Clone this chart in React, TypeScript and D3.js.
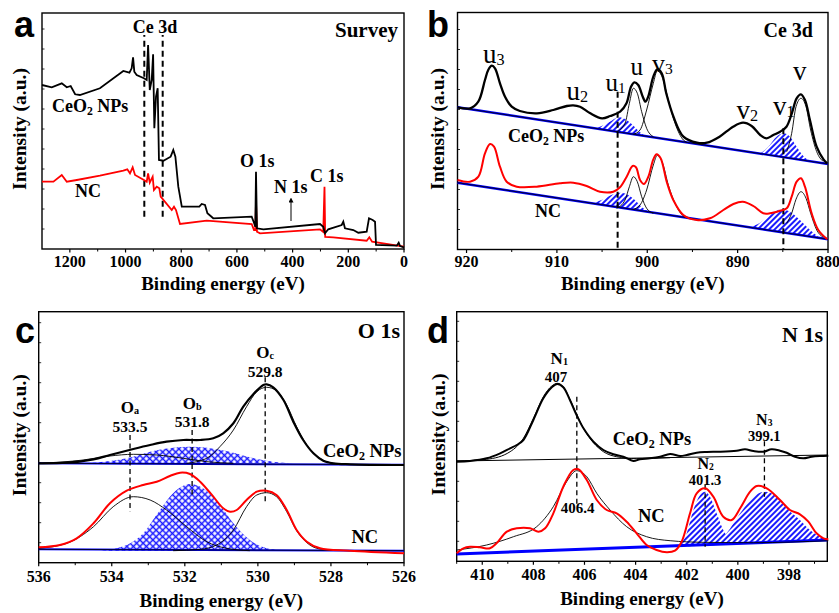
import React from "react";
import * as d3 from "d3";

type P = [number, number];

const SERIF = "'Liberation Serif', 'Times New Roman', serif";
const SANS = "'Liberation Sans', Arial, sans-serif";
const BLUE = "#0000ff";
const HBLUE = "#1a1aff";
const RED = "#ff0000";

// ---------------- a: Survey ----------------
const surveyMajor = [1200, 1000, 800, 600, 400, 200, 0];
const surveyMinor = [1100, 900, 700, 500, 300, 100];
const surveyCeO2: P[] = [[1300,164],[1265,161.7],[1229,165.7],[1211,161.7],[1197,163],[1181,154.7],[1164,154],[1092,160.7],[1008,178],[986,176.3],[978,180.7],[973,191.7],[968.5,177.3],[960,174],[934,170.7],[924,169],[919,204],[913,159],[906,169],[901,194.7],[896.6,120.7],[890.6,152.3],[884.6,160.7],[880,89],[864,88.3],[838,92.3],[828.5,99],[821,92.3],[810.5,62.3],[798,42.3],[735,42.3],[726.5,45],[714.6,44],[706,35.7],[685,30.7],[547,32.3],[538.7,26.3],[534,22.3],[531.5,77.3],[528,20.7],[505,19.7],[301.7,25],[290,22.3],[283.7,15.7],[272,19.7],[223.7,24],[218,27.3],[212,20.7],[182,19],[164,16.3],[134,17.3],[125.7,30.7],[112.5,29],[104,27.3],[100.5,4],[26,3.3],[19,6.3],[14,3],[0,1.7]];
const surveyNC: P[] = [[1300,67.3],[1259,67.3],[1229,74],[1211,67.3],[1175,69],[1092,73.3],[1008,78.3],[993.7,79.7],[984,75.7],[974.4,81.7],[966,74],[934,69],[924,67.3],[919,75.7],[913,66.3],[902.6,72.3],[898,59],[888,62.3],[878.7,60.7],[873.8,52.3],[834,39],[826,42.3],[818.8,39],[804.4,25],[708.5,28.3],[547,25],[538.7,19],[534,19],[531.5,47.3],[528,17.3],[517,15.7],[301.7,19.7],[290,17],[285.5,62.3],[283,12],[254,11.7],[134,8.3],[124.6,11.7],[114.6,7.3],[0,2.3]];
const surveyCeLines = [932.6, 866.6];
const surveyCeLineSpan: P = [32.3, 214];

// ---------------- b: Ce 3d ----------------
const ceMajor = [920, 910, 900, 890, 880];
const ceMinor = [915, 905, 895, 885];
const ceEnvCeO2: P[] = [[921,142.2],[919.6,141.2],[918.7,147.8],[917.96,169.5],[917.6,179.5],[917.2,183.8],[916.85,181.2],[916.3,166.2],[915.74,152.8],[915.0,142.8],[914.1,138.5],[912.2,136.2],[910.4,139.5],[908.9,143.5],[908.2,144.2],[907.44,142.8],[906.3,136.2],[905.0,131.2],[904.1,133.5],[903.0,137.8],[902.3,146.2],[901.8,162.8],[901.43,167.2],[901.0,164.5],[900.5,152.8],[900.2,147.8],[899.9,152.8],[899.33,172.8],[898.9,180.2],[898.4,176.2],[897.9,156.2],[897.1,132.8],[896.0,112.8],[894.5,106.8],[893.4,106.8],[892.0,112.8],[890.5,122.8],[889.4,126.8],[888.45,123.5],[887.5,114.5],[886.8,111.2],[886.05,114.5],[885.3,117.8],[884.6,122.8],[884.0,136.2],[883.47,151.2],[883.0,155.2],[882.55,149.5],[882.0,129.5],[881.26,102.8],[880.5,90.2],[880.1,86.2]];
const ceBaseCeO2: P[] = [[921,142.2],[880,85.5]];
const ceUCeO2: P[] = [[903.39,117.8],[902.46,126.2],[901.98,146.2],[901.54,161.2],[901.1,156.2],[900.62,137.8],[900.07,121.2],[899.33,112.8]];
const ceV3CeO2: P[] = [[901.54,115.2],[900.8,119.5],[900.07,139.5],[899.33,166.2],[898.89,178.8],[898.3,171.2],[897.67,149.5],[896.93,126.2],[896.0,109.5],[895.64,107.2]];
const ceVCeO2: P[] = [[884.57,97.8],[884.02,116.2],[883.54,142.8],[882.99,151.2],[882.43,142.8],[881.92,119.5],[881.25,97.8],[880.51,87.8]];
const ceU1CeO2: P[] = [[905.78,120.8],[904.86,124.2],[903.94,128.8],[903.2,132.2],[902.46,130.5],[901.73,125.5],[900.99,118.8],[900.25,113.5]];
const ceV1CeO2: P[] = [[887.52,95.8],[886.6,102.8],[885.68,112.8],[884.94,116.2],[884.2,112.8],[883.47,102.8],[882.73,93.5],[881.99,88.2]];
const ceEnvNC: P[] = [[921.0,69.5],[919.62,67.8],[918.69,72.8],[917.96,96.2],[917.4,105.5],[916.96,102.8],[916.3,82.8],[915.56,67.8],[914.45,62.8],[912.24,62.8],[909.66,66.2],[908.18,66.8],[906.71,63.5],[905.23,57.8],[903.76,57.8],[903.02,62.2],[902.28,72.8],[901.62,83.5],[901.25,82.2],[900.8,69.5],[900.36,65.5],[899.88,72.8],[899.33,90.2],[898.96,95.2],[898.52,91.2],[897.85,67.8],[897.12,49.5],[896.01,34.5],[894.53,29.5],[893.06,31.2],[891.58,39.5],[890.47,45.5],[889.44,47.8],[888.26,43.5],[887.16,36.2],[886.42,36.2],[885.31,38.8],[884.57,41.2],[884.02,52.8],[883.47,67.8],[882.99,71.2],[882.55,62.8],[881.81,36.2],[881.07,19.5],[880.08,10.2]];
const ceBaseNC: P[] = [[921,66.8],[880,10.2]];
const ceUNC: P[] = [[903.39,41.2],[902.46,49.5],[901.98,62.8],[901.54,72.8],[901.1,67.8],[900.62,52.8],[900.07,41.2],[899.33,36.2]];
const ceV3NC: P[] = [[901.54,40.2],[900.8,44.5],[900.07,59.5],[899.33,84.5],[898.89,94.2],[898.3,86.2],[897.67,64.5],[896.93,46.2],[896.0,33.5],[895.64,32.2]];
const ceVNC: P[] = [[884.57,26.2],[884.02,36.2],[883.54,50.2],[882.99,57.8],[882.43,51.2],[881.92,36.2],[881.25,19.5],[880.51,12.2]];
const ceU1NC: P[] = [[905.97,46.2],[904.86,50.2],[903.76,55.2],[903.02,56.8],[902.1,54.5],[901.17,47.8],[900.44,41.2],[899.7,37.5]];
const ceV1NC: P[] = [[888.63,22.2],[887.52,26.8],[886.42,34.5],[885.13,40.2],[884.2,37.8],[883.1,29.5],[881.99,19.5],[880.87,11.2]];
const ceDashes: P[] = [[903.28,157.8],[884.94,121.2]];

// ---------------- c: O 1s ----------------
const oMajor = [536, 534, 532, 530, 528, 526];
const oMinor = [535, 533, 531, 529, 527];
const oEnvCeO2: P[] = [[536.0,99.4],[535.23,100.0],[534.5,103.4],[534.05,107.7],[533.41,113.7],[532.95,117.7],[532.5,121.0],[532.04,122.7],[531.58,122.7],[531.22,124.4],[530.95,129.4],[530.67,139.4],[530.4,156.0],[530.12,168.7],[529.85,177.7],[529.76,178.4],[529.58,175.4],[529.3,162.7],[529.03,141.0],[528.76,122.7],[528.48,109.4],[528.21,102.0],[527.94,99.4],[527.48,98.4],[526.0,97.7]];
const oOaCeO2: P[] = [[536.0,99.4],[534.78,102.7],[534.05,106.7],[533.41,108.4],[532.77,107.7],[532.04,104.4],[531.4,101.0],[530.67,99.4]];
const oOcCeO2: P[] = [[531.95,99.4],[531.4,104.4],[531.04,116.0],[530.67,132.7],[530.31,156.0],[530.03,171.0],[529.76,175.4],[529.49,172.0],[529.21,157.7],[528.94,136.0],[528.66,117.7],[528.3,104.4],[527.94,99.4],[527.48,98.4]];
const oObCeO2: P[] = [[534.78,99.4],[534.05,101.7],[533.41,106.0],[532.95,111.0],[532.32,115.0],[531.86,116.0],[531.4,115.0],[530.86,111.7],[530.22,105.4],[529.58,101.0],[529.03,99.4]];
const oBaseCeO2: P[] = [[536,99.4],[526,98.0]];
const oEnvNC: P[] = [[536.0,15.4],[535.42,17.7],[534.96,24.4],[534.5,39.4],[534.05,59.4],[533.59,72.0],[533.14,77.7],[532.77,81.0],[532.41,86.7],[532.13,90.0],[531.86,88.7],[531.58,81.0],[531.22,66.0],[530.95,54.4],[530.76,51.0],[530.58,52.7],[530.31,62.7],[530.03,71.0],[529.76,72.0],[529.49,67.7],[529.21,52.7],[528.94,32.7],[528.66,21.0],[528.3,14.4],[527.48,12.0],[526.0,9.4]];
const oOaNC: P[] = [[536.0,14.4],[535.23,19.4],[534.5,36.0],[533.96,56.0],[533.41,66.0],[532.95,62.7],[532.5,52.7],[531.95,36.0],[531.4,21.0],[530.86,14.4],[530.22,12.0]];
const oOcNC: P[] = [[532.32,12.0],[531.58,13.4],[531.13,17.7],[530.67,32.7],[530.31,56.0],[530.03,67.7],[529.76,70.0],[529.49,66.0],[529.21,51.0],[528.94,32.0],[528.66,20.0],[528.3,13.7],[527.48,12.0]];
const oObNC: P[] = [[534.32,12.0],[533.59,17.7],[533.14,29.4],[532.68,52.7],[532.32,69.4],[531.86,78.7],[531.4,72.0],[531.04,57.7],[530.67,39.4],[530.22,22.7],[529.76,14.4],[529.21,12.0]];
const oBaseNC: P[] = [[536,13.4],[526,12.0]];
const oPeaks = ["533.5", "531.8", "529.8"];
const oPeakE = [533.5, 531.8, 529.8];
const oPeakNames = ["a", "b", "c"];
const oDashSpans: P[] = [[51.0, 127.7],[67.7, 132.7],[61.0, 185.4]];

// ---------------- d: N 1s ----------------
const nMajor = [410, 408, 406, 404, 402, 400, 398];
const nMinor = [411, 409, 407, 405, 403, 401, 399, 397];
const nCeO2: P[] = [[411.0,99.6],[410.48,100.3],[409.83,103.0],[409.3,108.0],[408.91,113.0],[408.65,116.3],[408.39,121.3],[408.0,141.3],[407.61,163.0],[407.28,174.0],[407.06,177.3],[406.83,174.0],[406.57,161.3],[406.31,146.3],[406.04,133.0],[405.65,119.6],[405.26,111.3],[404.87,107.0],[404.48,104.6],[404.09,100.3],[403.83,102.0],[403.44,103.0],[403.04,104.6],[402.65,107.3],[402.26,105.3],[402.0,106.3],[401.61,108.6],[401.22,109.3],[400.7,109.6],[400.05,110.6],[399.72,112.0],[399.39,110.3],[399.0,109.6],[398.68,112.0],[398.35,110.6],[398.09,108.6],[397.76,104.6],[397.44,103.0],[397.11,104.6],[396.79,105.3],[396.46,105.6]];
const nCeO2Fit: P[] = [[411.0,100.3],[409.83,102.0],[408.91,109.6],[408.39,123.0],[408.0,143.0],[407.61,164.6],[407.28,175.3],[407.06,178.0],[406.83,174.6],[406.57,162.0],[406.31,147.3],[406.04,133.0],[405.65,118.6],[405.26,109.6],[404.74,104.6],[403.96,102.6],[402.65,103.6]];
const nBaseCeO2: P[] = [[411,100.3],[396.5,106.3]];
const nNC: P[] = [[411.0,8.0],[410.74,13.0],[410.48,14.6],[410.09,14.0],[409.7,13.0],[409.44,18.0],[409.04,29.6],[408.65,33.0],[408.13,33.0],[407.8,29.6],[407.54,33.0],[407.22,48.0],[406.83,74.6],[406.44,91.3],[406.24,92.0],[405.91,81.3],[405.52,61.3],[405.13,51.3],[404.74,48.0],[404.35,39.6],[403.96,28.0],[403.57,16.3],[403.18,11.3],[402.78,9.0],[402.46,10.6],[402.2,19.6],[401.87,48.0],[401.61,68.0],[401.28,73.0],[400.96,64.6],[400.57,44.6],[400.24,41.3],[399.91,53.0],[399.52,69.6],[399.26,75.3],[398.87,73.0],[398.35,61.3],[397.96,51.3],[397.57,47.0],[397.24,39.6],[396.92,28.0],[396.65,23.0],[396.46,22.0]];
const nNCFit: P[] = [[411.0,11.3],[409.83,16.3],[408.78,24.6],[407.87,34.6],[407.22,54.6],[406.7,79.6],[406.31,90.6],[405.91,84.6],[405.52,68.0],[405.0,51.3],[404.35,34.6],[403.57,24.6],[402.65,20.6],[401.35,19.0],[399.39,18.6],[396.46,20.6]];
const nBaseNC: P[] = [[411,7.3],[396.5,21.3]];
const nN2: P[] = [[402.33,14.6],[402.0,28.0],[401.74,51.3],[401.48,66.3],[401.28,69.6],[401.09,64.6],[400.83,48.0],[400.57,31.3],[400.31,21.3],[400.05,17.0]];
const nN3: P[] = [[400.96,16.3],[400.44,28.0],[399.91,48.0],[399.39,64.6],[398.94,69.6],[398.48,64.6],[398.09,53.0],[397.57,41.3],[397.18,31.3],[396.79,24.6],[396.46,21.3]];
const nDashes: [number, number, number][] = [[406.3, 54.6, 164.6],[401.28, 14.6, 76.6],[398.96, 64.6, 120]];

// ---------------- helpers ----------------
type G = { x: d3.ScaleLinear<number, number>; y: d3.ScaleLinear<number, number>; l: number; r: number; t: number; b: number };
function mk(l: number, r: number, t: number, b: number, xd: [number, number]): G {
  return { x: d3.scaleLinear().domain(xd).range([l, r]), y: d3.scaleLinear().domain([0, b - t]).range([b, t]), l, r, t, b };
}
function path(g: G, pts: P[], curve: d3.CurveFactory = d3.curveMonotoneX) {
  return d3.line<P>().x(d => g.x(d[0])).y(d => g.y(d[1])).curve(curve)(pts) || "";
}

function Axes({ g, major, minor, tickY, titleY, yTitleX }: { g: G; major: number[]; minor: number[]; tickY: number; titleY: number; yTitleX: number }) {
  const yt = g.y.ticks(10).filter(v => g.y(v) > g.t + 2 && g.y(v) < g.b - 2);
  const cy = (g.t + g.b) / 2 - 2;
  return (
    <g>
      <rect x={g.l} y={g.t} width={g.r - g.l} height={g.b - g.t} fill="none" stroke="#000" strokeWidth={1.4} />
      {major.map(v => (
        <g key={"M" + v}>
          <line x1={g.x(v)} x2={g.x(v)} y1={g.b} y2={g.b + 3.5} stroke="#000" strokeWidth={1.2} />
          <text x={g.x(v)} y={tickY} textAnchor="middle" fontFamily={SERIF} fontWeight="bold" fontSize={16}>{v}</text>
        </g>
      ))}
      {minor.map(v => (
        <line key={"m" + v} x1={g.x(v)} x2={g.x(v)} y1={g.b} y2={g.b + 2.5} stroke="#000" strokeWidth={1} />
      ))}
      {yt.map(v => (
        <line key={"y" + v} x1={g.l} x2={g.l + 2.5} y1={g.y(v)} y2={g.y(v)} stroke="#000" strokeWidth={0.8} />
      ))}
      <text x={(g.l + g.r) / 2} y={titleY} textAnchor="middle" fontFamily={SERIF} fontWeight="bold" fontSize={19}>Binding energy (eV)</text>
      <text transform={`translate(${yTitleX},${cy}) rotate(-90)`} textAnchor="middle" fontFamily={SERIF} fontWeight="bold" fontSize={19.5}>Intensity (a.u.)</text>
    </g>
  );
}

function CeO2Label({ x, y, size = 18 }: { x: number; y: number; size?: number }) {
  return (
    <text x={x} y={y} fontFamily={SERIF} fontWeight="bold" fontSize={size} style={{ whiteSpace: "pre" }}>
      <tspan>CeO</tspan><tspan fontSize={size * 0.65} dy={3}>2</tspan><tspan dy={-3}> NPs</tspan>
    </text>
  );
}

function Sub({ x, y, main, sub, size, bold, anchor = "start", shift }: { x: number; y: number; main: string; sub: string; size: number; bold?: boolean; anchor?: string; shift?: number }) {
  return (
    <text x={x} y={y} textAnchor={anchor as any} fontFamily={SERIF} fontWeight={bold ? "bold" : "normal"} fontSize={size}>
      <tspan>{main}</tspan>{sub ? <tspan fontSize={size * 0.6} dy={shift ?? size * 0.08}>{sub}</tspan> : null}
    </text>
  );
}

export default function App() {
  const A = mk(42, 404, 13, 249, [1300, 0]);
  const B = mk(457.5, 828, 12.5, 249.5, [921, 880]);
  const C = mk(38.7, 404, 311.7, 562.7, [536, 526]);
  const D = mk(456.7, 827.3, 311.7, 561.3, [411, 396.5]);
  const smooth = d3.curveMonotoneX;
  const cat = d3.curveCatmullRom.alpha(0.5);

  return (
    <svg width={839} height={613} viewBox="0 0 839 613" style={{ position: "absolute", left: 0, top: 0, background: "#fff" }}>
      <defs>
        <pattern id="hatch" width={4} height={4} patternUnits="userSpaceOnUse" patternTransform="rotate(45)">
          <rect width={4} height={4} fill="#fff" />
          <line x1={2} y1={0} x2={2} y2={4} stroke={HBLUE} strokeWidth={2} />
        </pattern>
        <pattern id="cross" width={4.6} height={4.6} patternUnits="userSpaceOnUse" patternTransform="rotate(45)">
          <rect width={4.6} height={4.6} fill="#fff" />
          <line x1={0} y1={2.3} x2={4.6} y2={2.3} stroke={HBLUE} strokeWidth={1.5} />
          <line x1={2.3} y1={0} x2={2.3} y2={4.6} stroke={HBLUE} strokeWidth={1.5} />
        </pattern>
        <marker id="arr" viewBox="0 0 10 10" refX={5} refY={5} markerWidth={5} markerHeight={5} orient="auto">
          <path d="M0,0 L10,5 L0,10 z" fill="#000" />
        </marker>
      </defs>
      <rect x={0} y={0} width={839} height={613} fill="#fff" />

      {/* ---------- a ---------- */}
      <Axes g={A} major={surveyMajor} minor={surveyMinor} tickY={266.5} titleY={290} yTitleX={26} />
      {surveyCeLines.map(e => (
        <line key={e} x1={A.x(e)} x2={A.x(e)} y1={A.y(surveyCeLineSpan[0])} y2={A.y(surveyCeLineSpan[1])} stroke="#000" strokeWidth={2} strokeDasharray="6,4" />
      ))}
      <path d={path(A, surveyNC, d3.curveLinear)} fill="none" stroke={RED} strokeWidth={1.8} />
      <path d={path(A, surveyCeO2, d3.curveLinear)} fill="none" stroke="#000" strokeWidth={1.8} />
      <text x={14} y={36.5} fontFamily={SANS} fontWeight="bold" fontSize={36}>a</text>
      <text x={398} y={37} textAnchor="end" fontFamily={SERIF} fontWeight="bold" fontSize={21}>Survey</text>
      <text x={155} y={33} textAnchor="middle" fontFamily={SERIF} fontWeight="bold" fontSize={18}>Ce 3d</text>
      <CeO2Label x={52} y={111.5} />
      <text x={75} y={196.5} fontFamily={SERIF} fontWeight="bold" fontSize={18}>NC</text>
      <text x={240} y={166.5} fontFamily={SERIF} fontWeight="bold" fontSize={18}>O 1s</text>
      <text x={274} y={192.5} fontFamily={SERIF} fontWeight="bold" fontSize={18}>N 1s</text>
      <text x={310} y={181.5} fontFamily={SERIF} fontWeight="bold" fontSize={18}>C 1s</text>
      <line x1={291} x2={291} y1={221} y2={200} stroke="#000" strokeWidth={1} markerEnd="url(#arr)" />

      {/* ---------- b ---------- */}
      <Axes g={B} major={ceMajor} minor={ceMinor} tickY={266.5} titleY={290} yTitleX={444} />
      {[ceU1CeO2, ceV1CeO2, ceU1NC, ceV1NC].map((d, i) => (
        <path key={i} d={path(B, d, smooth) + "Z"} fill="url(#hatch)" stroke="none" />
      ))}
      {[ceBaseCeO2, ceBaseNC].map((d, i) => (
        <g key={i}>
          <path d={path(B, d, d3.curveLinear)} fill="none" stroke={BLUE} strokeWidth={2.4} />
          <path d={path(B, d, d3.curveLinear)} fill="none" stroke="#000" strokeWidth={0.8} />
        </g>
      ))}
      {[ceUCeO2, ceV3CeO2, ceVCeO2, ceUNC, ceV3NC, ceVNC].map((d, i) => (
        <path key={i} d={path(B, d, smooth)} fill="none" stroke="#000" strokeWidth={0.9} />
      ))}
      {ceDashes.map(([e, top]) => (
        <line key={e} x1={B.x(e)} x2={B.x(e)} y1={B.y(top)} y2={B.b} stroke="#000" strokeWidth={2} strokeDasharray="6,4" />
      ))}
      <path d={path(B, ceEnvNC, cat)} fill="none" stroke={RED} strokeWidth={2} />
      <path d={path(B, ceEnvCeO2, cat)} fill="none" stroke="#000" strokeWidth={2.3} />
      <text x={427} y={36.5} fontFamily={SANS} fontWeight="bold" fontSize={36}>b</text>
      <text x={813} y={37} textAnchor="end" fontFamily={SERIF} fontWeight="bold" fontSize={20}>Ce 3d</text>
      <Sub x={483} y={63} main="u" sub="3" size={27} />
      <Sub x={566.5} y={100} main="u" sub="2" size={27} />
      <Sub x={605.5} y={91} main="u" sub="1" size={25} />
      <Sub x={630.5} y={75} main="u" sub="" size={25} />
      <Sub x={652} y={72} main="v" sub="3" size={26} />
      <Sub x={736.5} y={119} main="v" sub="2" size={27} />
      <Sub x={773} y={115} main="v" sub="1" size={27} />
      <Sub x={793} y={80} main="v" sub="" size={27} />
      <CeO2Label x={508} y={141.5} />
      <text x={535} y={216.5} fontFamily={SERIF} fontWeight="bold" fontSize={18}>NC</text>

      {/* ---------- c ---------- */}
      <Axes g={C} major={oMajor} minor={oMinor} tickY={581.5} titleY={606.5} yTitleX={25.5} />
      <path d={path(C, oObCeO2, smooth) + "Z"} fill="url(#cross)" stroke="none" />
      <path d={path(C, oObNC, smooth) + "Z"} fill="url(#cross)" stroke="none" />
      {[oBaseCeO2, oBaseNC].map((d, i) => (
        <g key={i}>
          <path d={path(C, d, d3.curveLinear)} fill="none" stroke={BLUE} strokeWidth={2} />
          <path d={path(C, d, d3.curveLinear)} fill="none" stroke="#000" strokeWidth={0.8} />
        </g>
      ))}
      {[oOaCeO2, oOcCeO2, oOaNC, oOcNC].map((d, i) => (
        <path key={i} d={path(C, d, smooth)} fill="none" stroke="#000" strokeWidth={0.9} />
      ))}
      {oPeakE.map((e, i) => (
        <line key={e} x1={C.x(e)} x2={C.x(e)} y1={C.y(oDashSpans[i][1])} y2={C.y(oDashSpans[i][0])} stroke="#000" strokeWidth={1.3} strokeDasharray="5,3.5" />
      ))}
      <path d={path(C, oEnvNC, cat)} fill="none" stroke={RED} strokeWidth={2} />
      <path d={path(C, oEnvCeO2, cat)} fill="none" stroke="#000" strokeWidth={2.2} />
      <text x={15} y={343} fontFamily={SANS} fontWeight="bold" fontSize={36}>c</text>
      <text x={400} y={338} textAnchor="end" fontFamily={SERIF} fontWeight="bold" fontSize={22}>O 1s</text>
      {oPeakE.map((e, i) => {
        const ly = [413.3, 408.5, 358.3][i];
        return (
          <g key={"ol" + i}>
            <Sub x={C.x(e)} y={ly} main="O" sub={oPeakNames[i]} size={17} bold anchor="middle" shift={1} />
            <text x={C.x(e)} y={ly + 18.5} textAnchor="middle" fontFamily={SERIF} fontWeight="bold" fontSize={15.5}>{oPeaks[i]}</text>
          </g>
        );
      })}
      <CeO2Label x={323} y={456.5} size={18.5} />
      <text x={351.5} y={543.3} fontFamily={SERIF} fontWeight="bold" fontSize={18.5}>NC</text>

      {/* ---------- d ---------- */}
      <Axes g={D} major={nMajor} minor={nMinor} tickY={580} titleY={604.5} yTitleX={445} />
      <path d={path(D, nN3, smooth) + "Z"} fill="url(#hatch)" stroke="none" />
      <path d={path(D, nN2, smooth) + "Z"} fill="url(#hatch)" stroke="none" />
      <path d={path(D, nBaseCeO2, d3.curveLinear)} fill="none" stroke="#000" strokeWidth={1} />
      <path d={path(D, nBaseNC, d3.curveLinear)} fill="none" stroke={BLUE} strokeWidth={3} />
      <path d={path(D, nNCFit, smooth)} fill="none" stroke="#000" strokeWidth={0.9} />
      <path d={path(D, nCeO2Fit, smooth)} fill="none" stroke="#000" strokeWidth={1} />
      {nDashes.map(([e, lo, hi]) => (
        <line key={e} x1={D.x(e)} x2={D.x(e)} y1={D.y(hi)} y2={D.y(lo)} stroke="#000" strokeWidth={1.3} strokeDasharray="5,3.5" />
      ))}
      <path d={path(D, nNC, cat)} fill="none" stroke={RED} strokeWidth={2} />
      <path d={path(D, nCeO2, cat)} fill="none" stroke="#000" strokeWidth={2} />
      <text x={427} y={343} fontFamily={SANS} fontWeight="bold" fontSize={36}>d</text>
      <text x={823} y={342} textAnchor="end" fontFamily={SERIF} fontWeight="bold" fontSize={22}>N 1s</text>
      <Sub x={559.3} y={364} main="N" sub="1" size={17} bold anchor="middle" shift={1} />
      <text x={556} y={382} textAnchor="middle" fontFamily={SERIF} fontWeight="bold" fontSize={15}>407</text>
      <text x={577.7} y={513.3} textAnchor="middle" fontFamily={SERIF} fontWeight="bold" fontSize={15}>406.4</text>
      <Sub x={705.7} y={469} main="N" sub="2" size={16} bold anchor="middle" shift={1} />
      <text x={705} y={485} textAnchor="middle" fontFamily={SERIF} fontWeight="bold" fontSize={14.5}>401.3</text>
      <Sub x={764.3} y={425} main="N" sub="3" size={16} bold anchor="middle" shift={1} />
      <text x={764.3} y={441} textAnchor="middle" fontFamily={SERIF} fontWeight="bold" fontSize={14.5}>399.1</text>
      <CeO2Label x={612.7} y={445} size={18.5} />
      <text x={638} y={521.7} fontFamily={SERIF} fontWeight="bold" fontSize={18.5}>NC</text>
    </svg>
  );
}
